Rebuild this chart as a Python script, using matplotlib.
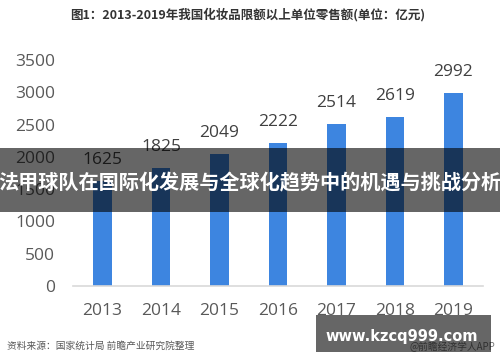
import matplotlib
matplotlib.use("Agg")
import matplotlib.pyplot as plt
from matplotlib.patches import Rectangle

plt.rcParams['font.family'] = ['Noto Sans CJK SC', 'DejaVu Sans']

years = ['2013', '2014', '2015', '2016', '2017', '2018', '2019']
sales = [1625, 1825, 2049, 2222, 2514, 2619, 2992]
yticks = [0, 500, 1000, 1500, 2000, 2500, 3000, 3500]

title = '图1：2013-2019年我国化妆品限额以上单位零售额(单位：亿元)'
banner = '法甲球队在国际化发展与全球化趋势中的机遇与挑战分析'
source = '资料来源：国家统计局 前瞻产业研究院整理'
url = 'www.kzcq999.com'
brand = '@前瞻经济学人APP'

fig = plt.figure(figsize=(5, 3.62), dpi=100)
ax = fig.add_axes([0.1465, 0.21, 0.819, 0.624])

x = list(range(len(years)))
ax.bar(x, sales, width=0.32, color='#3D85E0', zorder=2)
for xi, v in zip(x, sales):
    ax.annotate(str(v), (xi, v), xytext=(0, 15), textcoords='offset points',
                ha='center', va='center', fontsize=12.5, color='#404040',
                family=['Open Sans', 'DejaVu Sans'])

ax.set_xlim(-0.5, len(years) - 0.5)
ax.set_ylim(0, 3500)
ax.set_yticks(yticks)
ax.set_yticklabels([str(t) for t in yticks], family=['Open Sans', 'DejaVu Sans'],
                   fontsize=12.5, color='#595959')
ax.set_xticks(x)
ax.set_xticklabels(years, family=['Open Sans', 'DejaVu Sans'], fontsize=12.5, color='#595959')
ax.tick_params(axis='y', length=0, pad=13)
ax.tick_params(axis='x', length=0, pad=12)
for s in ['top', 'right', 'left']:
    ax.spines[s].set_visible(False)
ax.spines['bottom'].set_color('#D9D9D9')
ax.spines['bottom'].set_linewidth(1.2)

fig.text(0.496, 0.9586, title, ha='center', va='center', fontsize=9,
         fontweight='bold', color='#333333')

# banner overlay
fig.patches.append(Rectangle((0, 0.4144), 1, 0.1768, transform=fig.transFigure,
                             facecolor='black', alpha=0.6, edgecolor='none', zorder=5))
fig.text(0.5, 0.4945, banner, ha='center', va='center', fontsize=14.5,
         fontweight='bold', color='white', zorder=6)

fig.text(0.014, 0.044, source, ha='left', va='center', fontsize=7, color='#595959')

fig.text(0.99, 0.041, brand, ha='right', va='center', fontsize=7, color='#777777', zorder=4)
fig.patches.append(Rectangle((0.632, 1 - 352 / 362), 0.35, 37 / 362, transform=fig.transFigure,
                             facecolor='black', alpha=0.6, edgecolor='none', zorder=5))
fig.text(0.804, 1 - 337 / 362, url, ha='center', va='center', fontsize=10.5,
         fontweight='bold', color='white', family=['DejaVu Sans'], zorder=6)

fig.savefig('out.png', dpi=100)
